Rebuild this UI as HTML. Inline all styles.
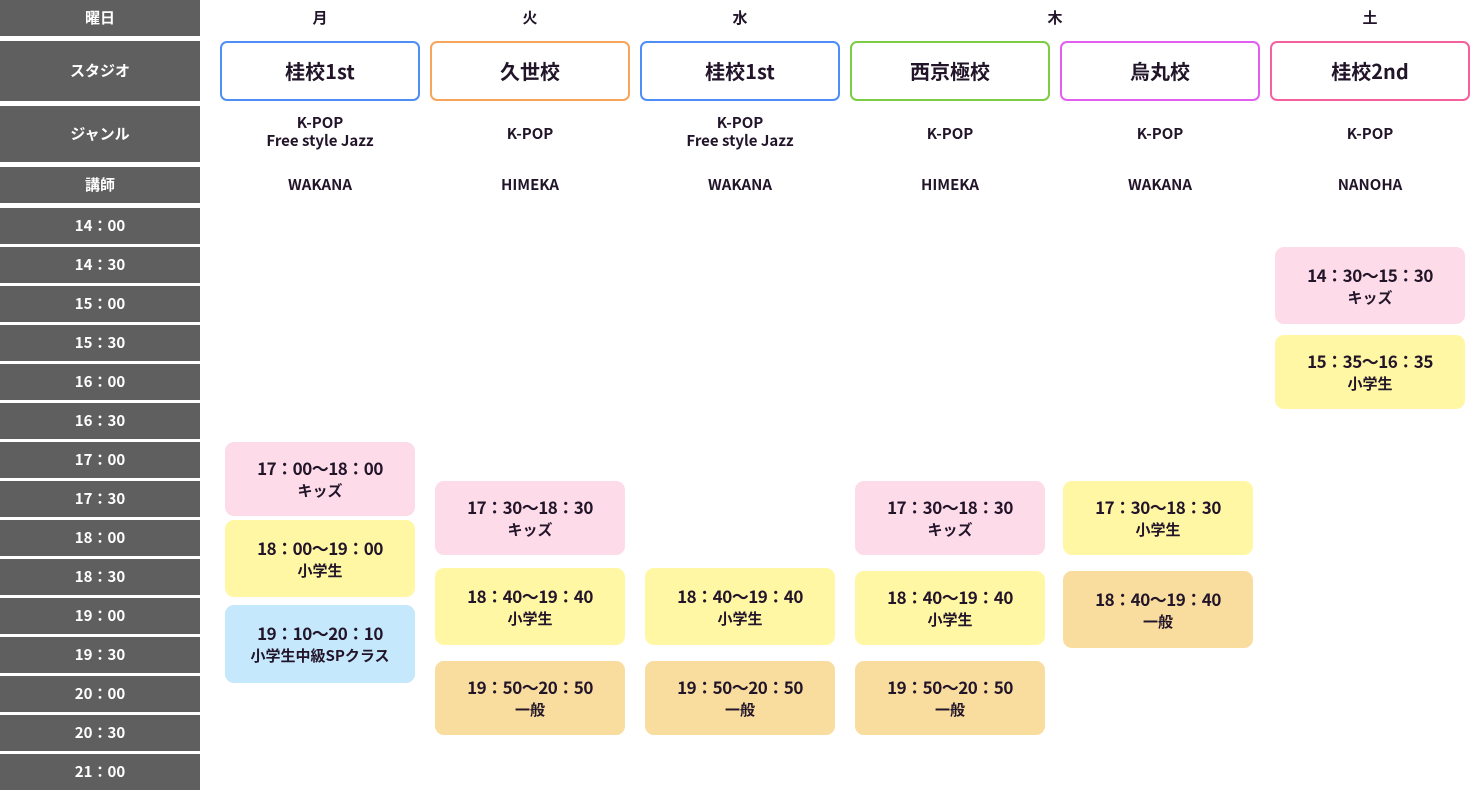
<!DOCTYPE html>
<html><head><meta charset="utf-8"><style>
*{margin:0;padding:0;box-sizing:border-box}
body{width:1471px;height:790px;background:#fff;position:relative;overflow:hidden;font-family:"Noto Sans CJK JP","Liberation Sans",sans-serif;color:#22152a}
.l{position:absolute;left:0;width:200px;background:#5f5f5f;color:#fff;font-weight:bold;font-size:15px;display:flex;align-items:center;justify-content:center;line-height:1;padding-bottom:2px}
.t{position:absolute;text-align:center;font-weight:bold;font-size:15px;line-height:18px}
.s{position:absolute;top:41px;width:200px;height:60px;border:2px solid;border-radius:7px;display:flex;align-items:center;justify-content:center;font-weight:bold;font-size:20px;line-height:1}
.b{position:absolute;width:190px;border-radius:9px;display:flex;flex-direction:column;align-items:center;justify-content:center;font-weight:bold;font-size:15px;line-height:23px}
.b span:first-child{font-size:17px;letter-spacing:-0.5px}
.p{background:#fddbe8}.y{background:#fff7a3}.c{background:#c6e8fc}.o{background:#f8dd9e}
</style></head><body>
<div class="l" style="top:0;height:36px">曜日</div>
<div class="l" style="top:41px;height:60px">スタジオ</div>
<div class="l" style="top:106px;height:56px">ジャンル</div>
<div class="l" style="top:167px;height:36px">講師</div>
<div class="l" style="top:208px;height:36px">14：00</div>
<div class="l" style="top:247px;height:36px">14：30</div>
<div class="l" style="top:286px;height:36px">15：00</div>
<div class="l" style="top:325px;height:36px">15：30</div>
<div class="l" style="top:364px;height:36px">16：00</div>
<div class="l" style="top:403px;height:36px">16：30</div>
<div class="l" style="top:442px;height:36px">17：00</div>
<div class="l" style="top:481px;height:36px">17：30</div>
<div class="l" style="top:520px;height:36px">18：00</div>
<div class="l" style="top:559px;height:36px">18：30</div>
<div class="l" style="top:598px;height:36px">19：00</div>
<div class="l" style="top:637px;height:36px">19：30</div>
<div class="l" style="top:676px;height:36px">20：00</div>
<div class="l" style="top:715px;height:36px">20：30</div>
<div class="l" style="top:754px;height:36px">21：00</div>

<div class="t" style="left:220px;width:200px;top:9px">月</div>
<div class="t" style="left:430px;width:200px;top:9px">火</div>
<div class="t" style="left:640px;width:200px;top:9px">水</div>
<div class="t" style="left:850px;width:410px;top:9px">木</div>
<div class="t" style="left:1270px;width:200px;top:9px">土</div>

<div class="s" style="left:220px;border-color:#4f8ef7">桂校1st</div>
<div class="s" style="left:430px;border-color:#f7a55a">久世校</div>
<div class="s" style="left:640px;border-color:#4f8ef7">桂校1st</div>
<div class="s" style="left:850px;border-color:#7ccc44">西京極校</div>
<div class="s" style="left:1060px;border-color:#e35ef0">烏丸校</div>
<div class="s" style="left:1270px;border-color:#f5609f">桂校2nd</div>

<div class="t" style="left:220px;width:200px;top:114px">K-POP<br>Free style Jazz</div>
<div class="t" style="left:430px;width:200px;top:125px">K-POP</div>
<div class="t" style="left:640px;width:200px;top:114px">K-POP<br>Free style Jazz</div>
<div class="t" style="left:850px;width:200px;top:125px">K-POP</div>
<div class="t" style="left:1060px;width:200px;top:125px">K-POP</div>
<div class="t" style="left:1270px;width:200px;top:125px">K-POP</div>

<div class="t" style="left:220px;width:200px;top:176px">WAKANA</div>
<div class="t" style="left:430px;width:200px;top:176px">HIMEKA</div>
<div class="t" style="left:640px;width:200px;top:176px">WAKANA</div>
<div class="t" style="left:850px;width:200px;top:176px">HIMEKA</div>
<div class="t" style="left:1060px;width:200px;top:176px">WAKANA</div>
<div class="t" style="left:1270px;width:200px;top:176px">NANOHA</div>

<div class="b p" style="left:225px;top:442px;height:74px"><span>17：00〜18：00</span><span>キッズ</span></div>
<div class="b y" style="left:225px;top:520px;height:77px"><span>18：00〜19：00</span><span>小学生</span></div>
<div class="b c" style="left:225px;top:605px;height:78px"><span>19：10〜20：10</span><span>小学生中級SPクラス</span></div>

<div class="b p" style="left:435px;top:481px;height:74px"><span>17：30〜18：30</span><span>キッズ</span></div>
<div class="b y" style="left:435px;top:568px;height:77px"><span>18：40〜19：40</span><span>小学生</span></div>
<div class="b o" style="left:435px;top:661px;height:74px"><span>19：50〜20：50</span><span>一般</span></div>

<div class="b y" style="left:645px;top:568px;height:77px"><span>18：40〜19：40</span><span>小学生</span></div>
<div class="b o" style="left:645px;top:661px;height:74px"><span>19：50〜20：50</span><span>一般</span></div>

<div class="b p" style="left:855px;top:481px;height:74px"><span>17：30〜18：30</span><span>キッズ</span></div>
<div class="b y" style="left:855px;top:571px;height:74px"><span>18：40〜19：40</span><span>小学生</span></div>
<div class="b o" style="left:855px;top:661px;height:74px"><span>19：50〜20：50</span><span>一般</span></div>

<div class="b y" style="left:1063px;top:481px;height:74px"><span>17：30〜18：30</span><span>小学生</span></div>
<div class="b o" style="left:1063px;top:571px;height:77px"><span>18：40〜19：40</span><span>一般</span></div>

<div class="b p" style="left:1275px;top:247px;height:77px"><span>14：30〜15：30</span><span>キッズ</span></div>
<div class="b y" style="left:1275px;top:335px;height:74px"><span>15：35〜16：35</span><span>小学生</span></div>
</body></html>
